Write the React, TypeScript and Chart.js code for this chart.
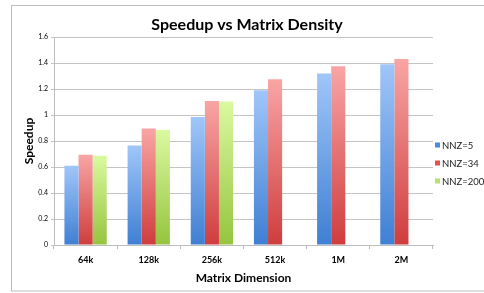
import React, { useEffect, useRef } from "react";
import { Chart, registerables } from "chart.js";

Chart.register(...registerables);

const categories = ["64k", "128k", "256k", "512k", "1M", "2M"];
const seriesLabels = ["NNZ=5", "NNZ=34", "NNZ=200"];
const nnz5 = [0.61, 0.765, 0.985, 1.19, 1.32, 1.39];
const nnz34 = [0.695, 0.897, 1.107, 1.275, 1.375, 1.43];
const nnz200 = [0.686, 0.885, 1.104, null, null, null];
const yTicks = [0, 0.2, 0.4, 0.6, 0.8, 1, 1.2, 1.4, 1.6];
const chartTitle = "Speedup vs Matrix Density";

const gradTop = ["#a0c6f9", "#f9a5a5", "#daf9a0"];
const gradBottom = ["#3f7fd3", "#cf3d3d", "#96c43f"];
const legendColors = ["#4d8ad9", "#e05252", "#b9e06c"];

const FONT = "Lato, 'Open Sans', sans-serif";

export default function App() {
  const ref = useRef<HTMLCanvasElement | null>(null);

  useEffect(() => {
    document.body.style.margin = "0";
    const canvas = ref.current;
    if (!canvas) return;

    const makeBg = (i: number) => (ctx: any) => {
      const chart = ctx.chart;
      const y = chart.scales && chart.scales.y;
      const v = ctx.raw;
      if (!y || v == null || !chart.chartArea) return gradBottom[i];
      const top = y.getPixelForValue(v);
      const bottom = y.getPixelForValue(0);
      if (!isFinite(top) || !isFinite(bottom) || top === bottom) return gradBottom[i];
      const g = chart.ctx.createLinearGradient(0, top, 0, bottom);
      g.addColorStop(0, gradTop[i]);
      g.addColorStop(1, gradBottom[i]);
      return g;
    };

    const decor = {
      id: "decor",
      afterDraw(chart: any) {
        const c = chart.ctx;
        c.save();
        c.strokeStyle = "#bdbdbd";
        c.lineWidth = 1;
        c.strokeRect(11.5, 5.5, 490, 285.5);
        // title
        c.font = "bold 16px " + FONT;
        c.fillStyle = "#000";
        c.textAlign = "center";
        c.textBaseline = "middle";
        c.fillText(chartTitle, 247, 25);
        // legend
        c.font = "9.5px " + FONT;
        c.textAlign = "left";
        chart.data.datasets.forEach((ds: any, i: number) => {
          const yy = 145 + i * 18;
          c.fillStyle = legendColors[i];
          c.fillRect(435, yy - 2.5, 5, 5);
          c.fillStyle = "#1a1a1a";
          c.fillText(ds.label, 442, yy + 0.5);
        });
        c.restore();
      },
    };

    const chart = new Chart(canvas, {
      type: "bar",
      data: {
        labels: categories,
        datasets: [nnz5, nnz34, nnz200].map((d, i) => ({
          label: seriesLabels[i],
          data: d,
          backgroundColor: makeBg(i),
          borderWidth: 0,
          barPercentage: 1.0,
          categoryPercentage: 0.67,
        })),
      },
      options: {
        responsive: false,
        animation: false,
        layout: { padding: { top: 37, left: 16, right: 51, bottom: 8 } },
        plugins: {
          legend: { display: false },
          tooltip: { enabled: false },
          title: { display: false },
        },
        scales: {
          x: {
            grid: {
              drawOnChartArea: false,
              drawTicks: true,
              tickLength: 4,
              color: "#bdbdbd",
            },
            border: { color: "#bdbdbd" },
            ticks: {
              color: "#000",
              font: { family: FONT, size: 9, weight: "bold" },
              padding: 6,
            },
            title: {
              display: true,
              text: "Matrix Dimension",
              color: "#000",
              font: { family: FONT, size: 12, weight: "bold" },
              padding: { top: 2, bottom: 0 },
            },
            afterFit(scale: any) {
              scale.height = 40;
            },
          },
          y: {
            min: 0,
            max: 1.6,
            afterBuildTicks(scale: any) {
              scale.ticks = yTicks.map((v) => ({ value: v }));
            },
            grid: { color: "#c4c4c4", tickLength: 3 },
            border: { color: "#bdbdbd" },
            ticks: {
              color: "#000",
              font: { family: FONT, size: 7 },
              padding: 3,
              callback: (v: any) => String(v),
            },
            title: {
              display: true,
              text: "Speedup",
              color: "#000",
              font: { family: FONT, size: 12, weight: "bold" },
              padding: { top: 6, bottom: 0 },
            },
            afterFit(scale: any) {
              scale.width = 38;
            },
          },
        },
      },
      plugins: [decor],
    });

    return () => chart.destroy();
  }, []);

  return (
    <div style={{ position: "fixed", left: 0, top: 0, width: 484, height: 293, background: "#fff" }}>
      <canvas ref={ref} width={484} height={293} style={{ display: "block" }} />
    </div>
  );
}
